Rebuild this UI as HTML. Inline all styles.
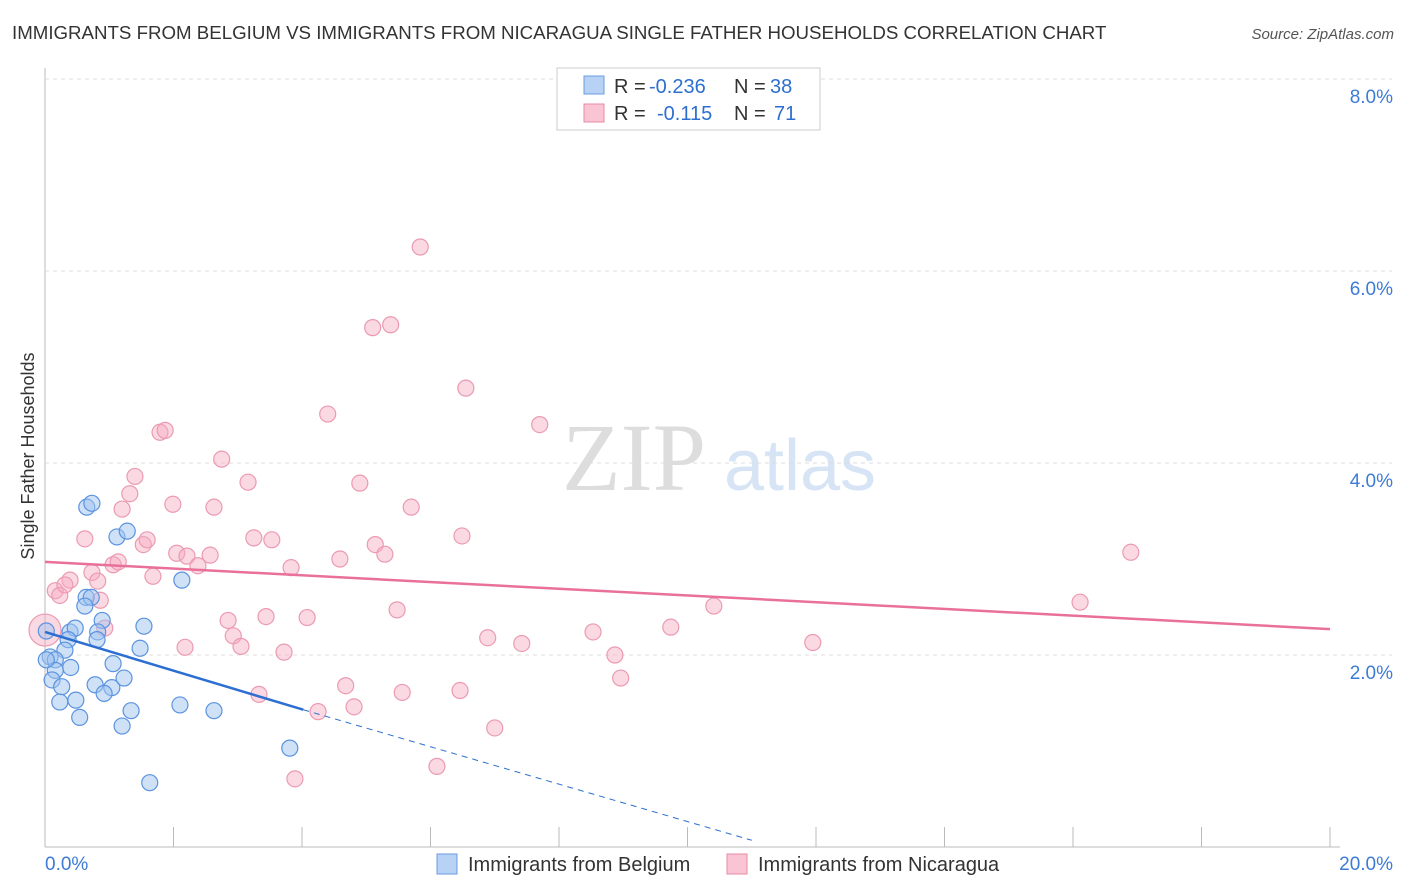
<!DOCTYPE html>
<html><head><meta charset="utf-8"><style>
body{margin:0;background:#fff;font-family:"Liberation Sans",sans-serif}
svg{display:block}
</style></head><body>
<svg id="c" width="1406" height="892">
<text x="12" y="39" font-size="18.7" fill="#333">IMMIGRANTS FROM BELGIUM VS IMMIGRANTS FROM NICARAGUA SINGLE FATHER HOUSEHOLDS CORRELATION CHART</text>
<text x="1394" y="39" font-size="15" fill="#555" font-style="italic" text-anchor="end">Source: ZipAtlas.com</text>
<text x="634" y="490" font-size="96" fill="#ddd" font-family="Liberation Serif" text-anchor="middle">ZIP</text>
<text x="800" y="490" font-size="72" fill="#d6e4f5" text-anchor="middle">atlas</text>
<text transform="translate(34,456) rotate(-90)" font-size="18" fill="#333" text-anchor="middle">Single Father Households</text>
<g id="grid"></g><g id="pts"></g><g id="lines"></g>
<g>
<rect x="557" y="68" width="263" height="62" fill="#fff" stroke="#ccc"/>
<rect x="584" y="76" width="20" height="18" fill="#b8d2f5" stroke="#6a9be0"/>
<rect x="584" y="104" width="20" height="18" fill="#f9c4d3" stroke="#e98aa6"/>
<g font-size="20" fill="#333">
<text x="614" y="93">R =</text><text x="649" y="93" fill="#2d6fd1">-0.236</text><text x="734" y="93">N =</text><text x="770" y="93" fill="#2d6fd1">38</text>
<text x="614" y="120">R =</text><text x="657" y="120" fill="#2d6fd1">-0.115</text><text x="734" y="120">N =</text><text x="774" y="120" fill="#2d6fd1">71</text>
</g>
</g>
<g>
<rect x="437" y="854" width="20" height="20" fill="#b8d2f5" stroke="#6a9be0"/>
<text x="468" y="871" font-size="20" fill="#333">Immigrants from Belgium</text>
<rect x="727" y="854" width="20" height="20" fill="#f9c4d3" stroke="#e98aa6"/>
<text x="758" y="871" font-size="20" fill="#333">Immigrants from Nicaragua</text>
</g>
</svg>
<script>
const xTicks=[0,2,4,6,8,10,12,14,16,18,20];
const yTicks=[2,4,6,8];
const belgiumX=[0.65,0.73,1.12,1.28,2.13,0.64,0.72,0.62,0.89,0.39,0.47,0.82,0.81,0.36,0.31,0.08,0.16,1.06,0.40,0.16,0.11,0.26,0.78,1.04,1.23,0.92,0.48,0.23,0.54,1.34,2.10,2.63,1.20,1.54,1.48,1.63,3.81,0.02,0.02];
const belgiumY=[3.54,3.58,3.23,3.29,2.78,2.60,2.60,2.51,2.36,2.24,2.28,2.24,2.16,2.16,2.05,1.98,1.95,1.91,1.87,1.84,1.74,1.67,1.69,1.66,1.76,1.60,1.53,1.51,1.35,1.42,1.48,1.42,1.26,2.30,2.07,0.67,1.03,2.25,1.95];
const nicaraguaX=[0,0.16,0.23,0.39,0.31,0.62,0.73,0.82,0.86,0.93,1.06,1.14,1.20,1.32,1.40,1.53,1.59,1.68,1.79,1.87,1.99,2.05,2.21,2.18,2.38,2.57,2.63,2.75,2.85,2.93,3.05,3.16,3.25,3.33,3.44,3.53,3.72,3.83,3.89,4.08,4.25,4.40,4.59,4.68,4.81,4.90,5.10,5.14,5.29,5.38,5.48,5.56,5.70,5.84,6.10,6.46,6.49,6.55,6.89,7.00,7.42,7.70,8.53,8.87,8.96,9.74,10.41,11.95,16.11,16.90];
const nicaraguaY=[2.26,2.67,2.62,2.78,2.73,3.21,2.86,2.77,2.57,2.28,2.94,2.97,3.52,3.68,3.86,3.15,3.20,2.82,4.32,4.34,3.57,3.06,3.03,2.08,2.93,3.04,3.54,4.04,2.36,2.20,2.09,3.80,3.22,1.59,2.40,3.20,2.03,2.91,0.71,2.39,1.41,4.51,3.00,1.68,1.46,3.79,5.41,3.15,3.05,5.44,2.47,1.61,3.54,6.25,0.84,1.63,3.24,4.78,2.18,1.24,2.12,4.40,2.24,2.00,1.76,2.29,2.51,2.13,2.55,3.07];
const pinkTrend=[[0,2.97],[20,2.27]];
const blueTrend=[[0,2.24],[4.02,1.43],[11,0.07]];
const X=v=>45+v/20*1285, Y=v=>847-v*96;
const NS='http://www.w3.org/2000/svg';
function mk(p,t,a){const e=document.createElementNS(NS,t);for(const k in a)e.setAttribute(k,a[k]);p.appendChild(e);return e;}
const grid=document.getElementById('grid'),pts=document.getElementById('pts'),lines=document.getElementById('lines');
const ya=mk(grid,'line',{x1:45,x2:45,y1:68,y2:847,stroke:'#bbb'});


const xa=mk(grid,'line',{x1:45,x2:1340,y1:847,y2:847,stroke:'#bbb'});


yTicks.forEach(v=>{
 const g=mk(grid,'line',{x1:45,x2:1392,y1:Y(v),y2:Y(v),stroke:'#ddd','stroke-dasharray':'4,4'});
 
 
 const t=mk(grid,'text',{x:1393,y:Y(v)+24,'font-size':19,fill:'#3d7bd6','text-anchor':'end'});
 t.textContent=v.toFixed(1)+'%';
 
 
});
xTicks.forEach(v=>{
 const l=mk(grid,'line',{x1:X(v),x2:X(v),y1:827,y2:847,stroke:'#bbb'});
 
 
});
[[0,'0.0%','start',45],[20,'20.0%','end',1393]].forEach(a=>{
 const t=mk(grid,'text',{x:a[3],y:870,'font-size':19,fill:'#3d7bd6','text-anchor':a[2]});
 t.textContent=a[1];
 
 
});
nicaraguaX.forEach((v,i)=>{
 const c=mk(pts,'circle',{cx:X(v),cy:Y(nicaraguaY[i]),r:i==0?16:8,fill:'rgba(246,170,192,0.45)',stroke:'#eb9ab2','stroke-width':1.2});
 
 
});
belgiumX.forEach((v,i)=>{
 const c=mk(pts,'circle',{cx:X(v),cy:Y(belgiumY[i]),r:8,fill:'rgba(160,195,240,0.5)',stroke:'#5b93e0','stroke-width':1.2});
 
 
});
const pl=mk(lines,'line',{x1:X(pinkTrend[0][0]),y1:Y(pinkTrend[0][1]),x2:X(pinkTrend[1][0]),y2:Y(pinkTrend[1][1]),stroke:'#e8709a','stroke-width':2.5});


const bl=mk(lines,'line',{x1:X(blueTrend[0][0]),y1:Y(blueTrend[0][1]),x2:X(blueTrend[1][0]),y2:Y(blueTrend[1][1]),stroke:'#2d6fd1','stroke-width':2.5});


const bd=mk(lines,'line',{x1:X(blueTrend[1][0]),y1:Y(blueTrend[1][1]),x2:X(blueTrend[2][0]),y2:Y(blueTrend[2][1]),stroke:'#2d6fd1','stroke-width':1,'stroke-dasharray':'6,5'});


</script>
</body></html>
